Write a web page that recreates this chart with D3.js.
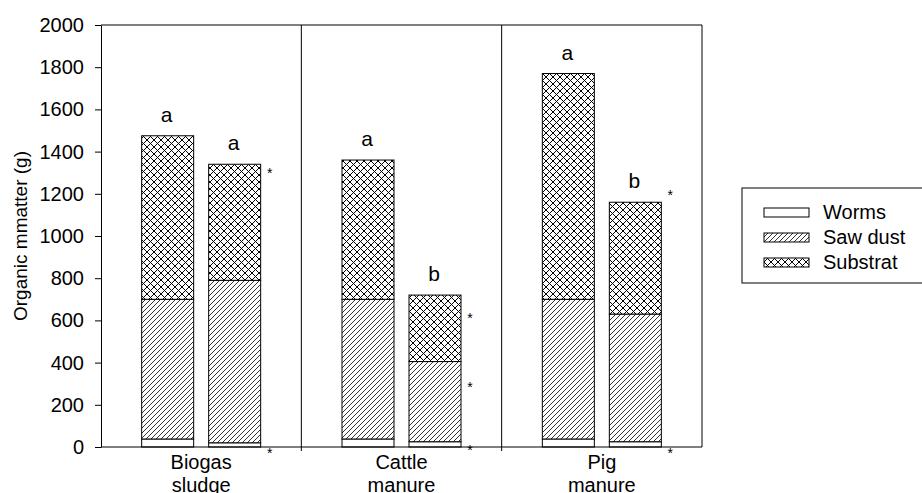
<!DOCTYPE html>
<html>
<head>
<meta charset="utf-8">
<script src="https://cdn.jsdelivr.net/npm/d3@7"></script>
<style>
  body { margin: 0; background: #fff; }
  text { font-family: Arial, "Liberation Sans", sans-serif; fill: #000; }
</style>
</head>
<body>
<div id="chart"></div>
<script>
// data
const groups = ["Biogas sludge", "Cattle manure", "Pig manure"];
const groupLines = [["Biogas", "sludge"], ["Cattle", "manure"], ["Pig", "manure"]];
const series = ["Worms", "Saw dust", "Substrat"];
// two bars per group
const worms = [[38, 20], [38, 25], [38, 25]];
const sawDust = [[662, 770], [662, 380], [662, 605]];
const substrat = [[775, 550], [660, 315], [1070, 530]];
const letters = [["a", "a"], ["a", "b"], ["a", "b"]];
// asterisk positions (y values) beside the second bar
const stars = [[1312, -14], [625, 300, 0], [1210, -14]];
const yTicks = [0, 200, 400, 600, 800, 1000, 1200, 1400, 1600, 1800, 2000];

const width = 922, height = 493;
const margin = {top: 25, right: 220, bottom: 46, left: 101};

const svg = d3.select("#chart").append("svg")
    .attr("width", width)
    .attr("height", height);

// patterns
const defs = svg.append("defs");
const hatch = defs.append("pattern")
    .attr("id", "hatch")
    .attr("patternUnits", "userSpaceOnUse")
    .attr("width", 5).attr("height", 5);
hatch.append("rect").attr("width", 5).attr("height", 5).attr("fill", "#fff");
hatch.append("path").attr("d", "M-1,1 l2,-2 M0,5 l5,-5 M4,6 l2,-2")
    .attr("stroke", "#000").attr("stroke-width", 0.8);

const cross = defs.append("pattern")
    .attr("id", "cross")
    .attr("patternUnits", "userSpaceOnUse")
    .attr("width", 7).attr("height", 7);
cross.append("rect").attr("width", 7).attr("height", 7).attr("fill", "#fff");
cross.append("path").attr("d", "M-1,1 l2,-2 M0,7 l7,-7 M6,8 l2,-2 M-1,6 l2,2 M0,0 l7,7 M6,-1 l2,2")
    .attr("stroke", "#000").attr("stroke-width", 1);

const fills = ["#fff", "url(#hatch)", "url(#cross)"];

const x = d3.scaleBand()
    .domain(groups)
    .range([margin.left, width - margin.right]);

const y = d3.scaleLinear()
    .domain([0, 2000])
    .range([height - margin.bottom, margin.top]);

const barW = 52;
const offsets = [-33.5, 33.5];
function barX(g, j) {
    return x(groups[g]) + x.bandwidth() / 2 + offsets[j] - barW / 2;
}

// stacked bars
const stackRows = [];
groups.forEach((gname, g) => {
    [0, 1].forEach(j => {
        const parts = [worms[g][j], sawDust[g][j], substrat[g][j]];
        let base = 0;
        parts.forEach((v, s) => {
            stackRows.push({g: g, j: j, s: s, y0: base, y1: base + v});
            base += v;
        });
    });
});

svg.append("g")
    .selectAll("rect")
    .data(stackRows)
    .join("rect")
        .attr("x", d => barX(d.g, d.j))
        .attr("y", d => y(d.y1))
        .attr("width", barW)
        .attr("height", d => y(d.y0) - y(d.y1))
        .attr("fill", d => fills[d.s])
        .attr("stroke", "#000")
        .attr("stroke-width", 1);

// letters over bars
const letterRows = [];
groups.forEach((gname, g) => {
    [0, 1].forEach(j => {
        const total = worms[g][j] + sawDust[g][j] + substrat[g][j];
        letterRows.push({g: g, j: j, t: letters[g][j], total: total});
    });
});
svg.append("g")
    .selectAll("text")
    .data(letterRows)
    .join("text")
        .attr("x", d => barX(d.g, d.j) + barW / 2 - 1)
        .attr("y", d => y(d.total) - 14)
        .attr("text-anchor", "middle")
        .attr("font-size", "21px")
        .text(d => d.t);

// asterisks
const starRows = [];
stars.forEach((list, g) => list.forEach(v => starRows.push({g: g, v: v})));
svg.append("g")
    .selectAll("text")
    .data(starRows)
    .join("text")
        .attr("x", d => barX(d.g, 1) + barW + 9)
        .attr("y", d => y(d.v) + 8)
        .attr("text-anchor", "middle")
        .attr("font-size", "14px")
        .text("*");

// frame and group separators
const x0 = margin.left, x1 = width - margin.right;
const yb = y(0), yt = y(2000);
svg.append("path")
    .attr("d", `M${x0},${yt} H${x1} V${yb}`)
    .attr("fill", "none").attr("stroke", "#000");
svg.append("g")
    .selectAll("line")
    .data(groups.slice(1))
    .join("line")
        .attr("x1", d => x(d)).attr("x2", d => x(d))
        .attr("y1", yt).attr("y2", yb + 4)
        .attr("stroke", "#000");

// x axis
svg.append("line")
    .attr("x1", x0).attr("x2", x1)
    .attr("y1", yb).attr("y2", yb)
    .attr("stroke", "#000");
const xl = svg.append("g")
    .selectAll("text")
    .data(groupLines)
    .join("text")
        .attr("text-anchor", "middle")
        .attr("font-size", "20px")
        .attr("x", (d, i) => x(groups[i]) + x.bandwidth() / 2)
        .attr("y", yb + 22);
xl.append("tspan").text(d => d[0]);
xl.append("tspan")
    .attr("x", (d, i) => x(groups[i]) + x.bandwidth() / 2)
    .attr("dy", 23)
    .text(d => d[1]);

// y axis
function yAxis(g) {
    g.attr("transform", `translate(${margin.left},0)`)
        .call(d3.axisLeft(y).tickValues(yTicks).tickFormat(d3.format("d"))
            .tickSize(6).tickPadding(11).tickSizeOuter(0))
        .call(g => g.selectAll(".tick text")
            .attr("font-size", "20px")
            .attr("font-family", "Arial, 'Liberation Sans', sans-serif")
            .attr("fill", "#000"));
}
svg.append("g").call(yAxis);

svg.append("text")
    .attr("transform", `translate(27,${(yt + yb) / 2}) rotate(-90)`)
    .attr("text-anchor", "middle")
    .attr("font-size", "19px")
    .text("Organic mmatter (g)");

// legend
const legend = svg.append("g").attr("transform", "translate(742,188)");
legend.append("rect")
    .attr("width", 182).attr("height", 95)
    .attr("fill", "#fff").attr("stroke", "#000");
const li = legend.selectAll("g")
    .data(series)
    .join("g")
        .attr("transform", (d, i) => `translate(22,${24 + i * 25})`);
li.append("rect")
    .attr("y", -4)
    .attr("width", 45).attr("height", 9)
    .attr("fill", (d, i) => fills[i])
    .attr("stroke", "#000");
li.append("text")
    .attr("x", 59).attr("y", 7)
    .attr("font-size", "20px")
    .text(d => d);
</script>
</body>
</html>
